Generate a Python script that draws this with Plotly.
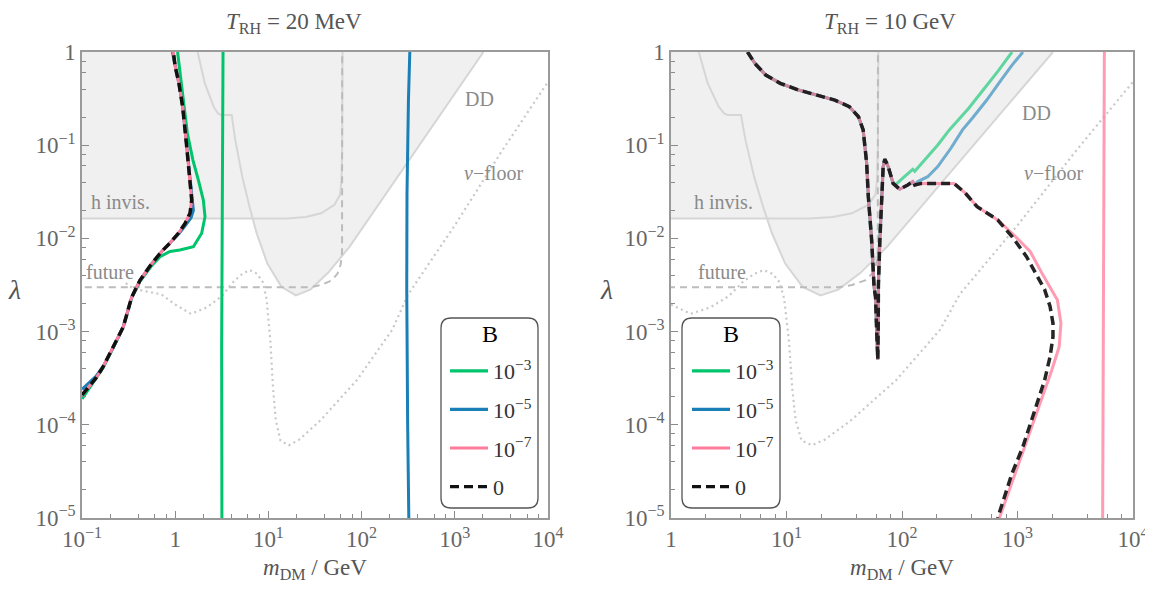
import plotly.graph_objects as go

W, H = 1153, 595           # browser window
OFF = 8                    # default page body margin
FW, FH = W - OFF, H - 2 * OFF - 1  # figure size (keeps the page free of scrollbars)
FONT = "Liberation Serif"

# ---------------- constraint curves (same in both panels) ----------------
m_dd = [1.74, 2.08, 2.59, 2.88, 3.10, 4.04, 4.41, 5.25, 6.27, 7.48, 9.75, 13.8, 19.7, 28.1, 43.7, 74.1, 2028]
lam_dd = [1.0, 0.461, 0.259, 0.219, 0.211, 0.211, 0.114, 0.0457, 0.0219, 0.01135, 5.37e-3, 3.02e-3, 2.45e-3, 2.82e-3, 4.27e-3, 8.13e-3, 1.0]

m_hinv = [0.01, 15.8, 25.1, 36.7, 51.1, 58.9, 61.0, 61.9, 62.4]
lam_hinv = [0.0164, 0.0164, 0.0170, 0.0186, 0.0229, 0.0295, 0.0447, 0.1, 1.0]

m_future = [0.01, 28.2, 36.9, 47.9, 55.0, 59.6, 61.7, 61.9]
lam_future = [0.003, 0.003, 0.00316, 0.00355, 0.00417, 0.00525, 0.00708, 1.0]

m_nu = [0.295, 0.355, 0.501, 0.708, 1.0, 1.479, 2.188, 3.162, 4.169, 5.248, 6.31, 7.586, 8.71, 9.55,
        10.5, 11.2, 12.0, 13.5, 16.6, 21.4, 36.3, 89.1, 214, 316, 1000, 3162, 10000]
lam_nu = [3.31e-3, 2.88e-3, 2.69e-3, 2.51e-3, 1.95e-3, 1.55e-3, 1.82e-3, 2.4e-3, 3.39e-3, 4.17e-3, 4.57e-3,
          4.17e-3, 3.39e-3, 2.24e-3, 7.94e-4, 2.51e-4, 1.12e-4, 6.76e-5, 6.03e-5, 6.92e-5, 1.12e-4, 3.02e-4,
          1.05e-3, 2.51e-3, 0.0138, 0.0851, 0.479]

# ---------------- left panel: T_RH = 20 MeV ----------------
m_b0_L = [0.1, 0.118, 0.141, 0.168, 0.219, 0.277, 0.341, 0.419, 0.56, 0.716, 0.879, 1.08, 1.274, 1.442,
          1.503, 1.442, 1.318, 1.202, 1.096, 1.0, 0.955]
lam_b0_L = [2.09e-4, 2.57e-4, 3.16e-4, 4.17e-4, 6.9e-4, 1.12e-3, 2.34e-3, 3.55e-3, 5.37e-3, 7.24e-3, 8.91e-3,
            0.01135, 0.01445, 0.01862, 0.0258, 0.0424, 0.105, 0.259, 0.461, 0.697, 1.0]
m_b7_L = m_b0_L
lam_b7_L = lam_b0_L

m_b5_L = [0.1, 0.118, 0.141, 0.168, 0.219, 0.277, 0.341, 0.419, 0.56, 0.716, 0.879, 1.096, 1.288, 1.479,
          1.567, 1.514, 1.442, 1.318, 1.202, 1.096, 1.0, 0.933]
lam_b5_L = [2.4e-4, 2.82e-4, 3.3e-4, 4.2e-4, 6.9e-4, 1.12e-3, 2.34e-3, 3.55e-3, 5.37e-3, 7.24e-3, 8.91e-3,
            0.01122, 0.0138, 0.0166, 0.01995, 0.0282, 0.0424, 0.105, 0.259, 0.461, 0.697, 1.0]
m_b5_L_vert = [329, 318, 307, 305, 312, 321]
lam_b5_L_vert = [1.0, 0.3, 0.03, 0.003, 1e-4, 1e-5]

m_b3_L = [0.1, 0.118, 0.141, 0.168, 0.219, 0.277, 0.341, 0.419, 0.562, 0.687, 0.879, 1.122, 1.567, 1.923,
          2.089, 2.004, 1.77, 1.549, 1.349, 1.23, 1.122, 1.06]
lam_b3_L = [1.9e-4, 2.4e-4, 3.09e-4, 4.07e-4, 6.9e-4, 1.12e-3, 2.29e-3, 3.47e-3, 5.13e-3, 6.37e-3, 7.24e-3,
            7.5e-3, 8.13e-3, 0.01135, 0.0171, 0.0258, 0.0424, 0.0692, 0.135, 0.305, 0.697, 1.0]
m_b3_L_vert = [3.26, 3.22, 3.17, 3.13, 3.11, 3.15, 3.17]
lam_b3_L_vert = [1.0, 0.1, 0.01, 0.002, 9e-4, 7e-4, 1e-5]

# ---------------- right panel: T_RH = 10 GeV ----------------
m_main_R = [4.60, 5.32, 6.61, 8.83, 12.7, 18.2, 26.2, 35.0, 42.0, 46.1, 49.4, 51.1, 54.6, 57.3, 59.0, 60.3,
            61.7, 62.2, 62.5, 64.3, 66.5, 68.7, 71.0, 75.9, 83.8, 95.5, 112, 124, 129, 147, 263, 282, 351, 447, 673]
lam_main_R = [1.0, 0.755, 0.566, 0.461, 0.391, 0.346, 0.305, 0.259, 0.202, 0.146, 0.0646, 0.0282, 0.00955,
              0.00302, 0.00234, 0.00105, 5.0e-4, 0.00105, 0.00316, 0.00955, 0.0282, 0.0589, 0.0708, 0.0589,
              0.0389, 0.0337, 0.0374, 0.0407, 0.0374, 0.0389, 0.0389, 0.0389, 0.0309, 0.0219, 0.0158]
m_b0_R_tail = [897, 1197, 1486, 1718, 1914, 2028, 2028, 1914, 1718, 1384, 1114, 897, 673]
lam_b0_R_tail = [0.01047, 0.00637, 0.00389, 0.00282, 0.00186, 0.00123, 8.8e-4, 5.37e-4, 3.02e-4, 1.32e-4,
                 5.82e-5, 3.02e-5, 1e-5]
m_b7_R_tail = [897, 1288, 1600, 2133, 2213, 2377, 2296, 1986, 1718, 1384, 1156, 931, 697]
lam_b7_R_tail = [0.01135, 0.00724, 0.0044, 0.00237, 0.00219, 0.00123, 6.9e-4, 3.89e-4, 2.34e-4, 1.12e-4,
                 5.82e-5, 2.75e-5, 1e-5]
m_b7_R_vert = [5650, 5600, 5500, 5460]
lam_b7_R_vert = [1.0, 0.1, 1e-3, 1e-5]
m_b3_R_branch = [87.1, 105, 124, 129, 157, 204, 257, 304, 378, 504, 673, 897]
lam_b3_R_branch = [0.0372, 0.0459, 0.0551, 0.0525, 0.0693, 0.1005, 0.146, 0.186, 0.249, 0.391, 0.615, 1.0]
m_b5_R_branch = [137, 167, 204, 265, 334, 406, 542, 723, 897, 1114]
lam_b5_R_branch = [0.0407, 0.0459, 0.0589, 0.0927, 0.146, 0.195, 0.305, 0.501, 0.724, 1.0]

# legend
B_labels = ["10<sup>−3</sup>", "10<sup>−5</sup>", "10<sup>−7</sup>", "0"]
B_colors = ["#00c46b", "#1a7fb6", "#ff7b9b", "#111111"]

x_tick_vals_L = [0.1, 1, 10, 100, 1000, 10000]
x_tick_text_L = ["10<sup>−1</sup>", "1", "10<sup>1</sup>", "10<sup>2</sup>", "10<sup>3</sup>", "10<sup>4</sup>"]
x_tick_vals_R = [1, 10, 100, 1000, 10000]
x_tick_text_R = ["1", "10<sup>1</sup>", "10<sup>2</sup>", "10<sup>3</sup>", "10<sup>4</sup>"]
y_tick_vals = [1e-5, 1e-4, 1e-3, 1e-2, 1e-1, 1]
y_tick_text = ["10<sup>−5</sup>", "10<sup>−4</sup>", "10<sup>−3</sup>", "10<sup>−2</sup>", "10<sup>−1</sup>", "1"]


def minor_vals(d0, d1):
    return [k * 10.0 ** d for d in range(d0, d1) for k in (2, 4, 6, 8)]


def px(x):
    return (x - OFF) / FW


def py(y):
    return 1 - (y - OFF) / FH


fig = go.Figure()
FILL = "#f0f0f0"
CLINE = "#d6d6d6"

for xa, ya in (("x", "y"), ("x2", "y2")):
    fig.add_trace(go.Scatter(x=m_hinv + [0.01], y=lam_hinv + [1.0], fill="toself", fillcolor=FILL,
                             line=dict(width=0), mode="lines", hoverinfo="skip", showlegend=False,
                             xaxis=xa, yaxis=ya))
    fig.add_trace(go.Scatter(x=m_dd, y=lam_dd, fill="toself", fillcolor=FILL,
                             line=dict(width=0), mode="lines", hoverinfo="skip", showlegend=False,
                             xaxis=xa, yaxis=ya))
    fig.add_trace(go.Scatter(x=m_hinv, y=lam_hinv, mode="lines", line=dict(color=CLINE, width=2),
                             showlegend=False, xaxis=xa, yaxis=ya))
    fig.add_trace(go.Scatter(x=m_dd, y=lam_dd, mode="lines", line=dict(color=CLINE, width=2),
                             showlegend=False, xaxis=xa, yaxis=ya))
    fig.add_trace(go.Scatter(x=m_future, y=lam_future, mode="lines",
                             line=dict(color="#bcbcbc", width=2, dash="7px,5px"),
                             showlegend=False, xaxis=xa, yaxis=ya))
    fig.add_trace(go.Scatter(x=m_nu, y=lam_nu, mode="lines",
                             line=dict(color="#c8c8c8", width=2.2, dash="2px,3.5px"),
                             showlegend=False, xaxis=xa, yaxis=ya))

LW = 3.0
DASH0 = "9px,5px"
# left panel curves
fig.add_trace(go.Scatter(x=m_b3_L + [None] + m_b3_L_vert, y=lam_b3_L + [None] + lam_b3_L_vert, mode="lines",
                         line=dict(color=B_colors[0], width=LW), showlegend=False, xaxis="x", yaxis="y"))
fig.add_trace(go.Scatter(x=m_b5_L + [None] + m_b5_L_vert, y=lam_b5_L + [None] + lam_b5_L_vert, mode="lines",
                         line=dict(color=B_colors[1], width=LW), showlegend=False, xaxis="x", yaxis="y"))
fig.add_trace(go.Scatter(x=m_b7_L, y=lam_b7_L, mode="lines",
                         line=dict(color=B_colors[2], width=LW), showlegend=False, xaxis="x", yaxis="y"))
fig.add_trace(go.Scatter(x=m_b0_L, y=lam_b0_L, mode="lines",
                         line=dict(color=B_colors[3], width=3.5, dash=DASH0), showlegend=False,
                         xaxis="x", yaxis="y"))

# right panel curves
OP = 0.6
fig.add_trace(go.Scatter(x=m_main_R[:25] + m_b3_R_branch, y=lam_main_R[:25] + lam_b3_R_branch, mode="lines",
                         line=dict(color=B_colors[0], width=LW), opacity=OP, showlegend=False,
                         xaxis="x2", yaxis="y2"))
fig.add_trace(go.Scatter(x=m_main_R[:29] + m_b5_R_branch, y=lam_main_R[:29] + lam_b5_R_branch, mode="lines",
                         line=dict(color=B_colors[1], width=LW), opacity=OP, showlegend=False,
                         xaxis="x2", yaxis="y2"))
fig.add_trace(go.Scatter(x=m_main_R + m_b7_R_tail + [None] + m_b7_R_vert,
                         y=lam_main_R + lam_b7_R_tail + [None] + lam_b7_R_vert, mode="lines",
                         line=dict(color=B_colors[2], width=LW), opacity=0.75, showlegend=False,
                         xaxis="x2", yaxis="y2"))
fig.add_trace(go.Scatter(x=m_main_R + m_b0_R_tail, y=lam_main_R + lam_b0_R_tail, mode="lines",
                         line=dict(color="#1a1a1a", width=3.5, dash=DASH0), opacity=0.95, showlegend=False,
                         xaxis="x2", yaxis="y2"))

# legend entries
for lg in ("legend", "legend2"):
    for i, (lab, col) in enumerate(zip(B_labels, B_colors)):
        dash = DASH0 if i == 3 else "solid"
        fig.add_trace(go.Scatter(x=[None], y=[None], mode="lines", name=lab,
                                 line=dict(color=col, width=3.2, dash=dash),
                                 legend=lg, legendgroup=lg + str(i), showlegend=True,
                                 xaxis="x" if lg == "legend" else "x2", yaxis="y" if lg == "legend" else "y2"))

axis_common = dict(type="log", showgrid=False, zeroline=False, showline=True, mirror=True, automargin=False,
                   linecolor="#9a9a9a", linewidth=1.5, ticks="inside", ticklen=7, tickwidth=1.2,
                   tickcolor="#8a8a8a", tickfont=dict(family=FONT, size=23, color="#666666"),
                   tickmode="array", ticklabeloverflow="allow")
ydom = [py(518), py(52)]

fig.update_layout(
    width=FW, height=FH, margin=dict(l=0, r=0, t=0, b=0, autoexpand=False),
    paper_bgcolor="white", plot_bgcolor="white",
    xaxis=dict(axis_common, domain=[px(82), px(548)], range=[-1, 4], anchor="y",
               tickvals=x_tick_vals_L, ticktext=x_tick_text_L,
               minor=dict(tickvals=minor_vals(-1, 4), ticks="inside", ticklen=4.5, tickcolor="#8a8a8a")),
    yaxis=dict(axis_common, domain=ydom, range=[-5, 0], anchor="x",
               tickvals=y_tick_vals, ticktext=y_tick_text,
               minor=dict(tickvals=minor_vals(-5, 0), ticks="inside", ticklen=4.5, tickcolor="#8a8a8a")),
    xaxis2=dict(axis_common, domain=[px(671), px(1133)], range=[0, 4], anchor="y2",
                tickvals=x_tick_vals_R, ticktext=x_tick_text_R,
                minor=dict(tickvals=minor_vals(0, 4), ticks="inside", ticklen=4.5, tickcolor="#8a8a8a")),
    yaxis2=dict(axis_common, domain=ydom, range=[-5, 0], anchor="x2",
                tickvals=y_tick_vals, ticktext=y_tick_text,
                minor=dict(tickvals=minor_vals(-5, 0), ticks="inside", ticklen=4.5, tickcolor="#8a8a8a")),
    showlegend=True,
)

leg_common = dict(bgcolor="rgba(0,0,0,0)", borderwidth=0, xanchor="left", yanchor="top", itemwidth=38,
                  font=dict(family=FONT, size=22, color="#333333"), tracegroupgap=7)
fig.update_layout(legend=dict(leg_common, x=px(445), y=py(350)),
                  legend2=dict(leg_common, x=px(687), y=py(350)))


def rounded_box(x0, y0, x1, y1, r):
    X0, X1, Y0, Y1 = px(x0), px(x1), py(y0), py(y1)
    rx, ry = r / FW, r / FH
    return (f"M{X0 + rx},{Y0} L{X1 - rx},{Y0} Q{X1},{Y0} {X1},{Y0 - ry} L{X1},{Y1 + ry} "
            f"Q{X1},{Y1} {X1 - rx},{Y1} L{X0 + rx},{Y1} Q{X0},{Y1} {X0},{Y1 + ry} "
            f"L{X0},{Y0 - ry} Q{X0},{Y0} {X0 + rx},{Y0} Z")


for bx in ((441, 318, 538, 508), (682, 318, 780, 508)):
    fig.add_shape(type="path", path=rounded_box(*bx, 10), xref="paper", yref="paper",
                  line=dict(color="#555555", width=1.3), fillcolor="rgba(255,255,255,0)", layer="above")
    fig.add_annotation(text="B", x=px((bx[0] + bx[2]) / 2), y=py(334), xref="paper", yref="paper",
                       showarrow=False, xanchor="center", yanchor="middle",
                       font=dict(family=FONT, size=24, color="black"))

TXT = dict(family=FONT, size=20, color="#8a8a8a")
labels = [
    ("h invis.", 89, 202), ("future", 84, 272), ("DD", 463, 99), ("<i>ν</i>−floor", 462, 173),
    ("h invis.", 692, 202), ("future", 696, 272), ("DD", 1020, 113), ("<i>ν</i>−floor", 1022, 173),
]
for t, x, y in labels:
    fig.add_annotation(text=t, x=px(x), y=py(y), xref="paper", yref="paper", showarrow=False,
                       xanchor="left", yanchor="middle", font=TXT)

TF = dict(family=FONT, size=23, color="#555555")
for cx, t in ((294, "<i>T</i><sub>RH</sub> = 20 MeV"), (890, "<i>T</i><sub>RH</sub> = 10 GeV")):
    fig.add_annotation(text=t, x=px(cx), y=py(23), xref="paper", yref="paper", showarrow=False,
                       xanchor="center", yanchor="middle", font=TF)
for cx in (315, 902):
    fig.add_annotation(text="<i>m</i><sub>DM</sub> / GeV", x=px(cx), y=py(569), xref="paper", yref="paper",
                       showarrow=False, xanchor="center", yanchor="middle", font=TF)
for lx in (14, 606):
    fig.add_annotation(text="<i>λ</i>", x=px(lx), y=py(290), xref="paper", yref="paper", showarrow=False,
                       xanchor="center", yanchor="middle", font=dict(family=FONT, size=28, color="#555555"))

fig.write_html("out.html")
